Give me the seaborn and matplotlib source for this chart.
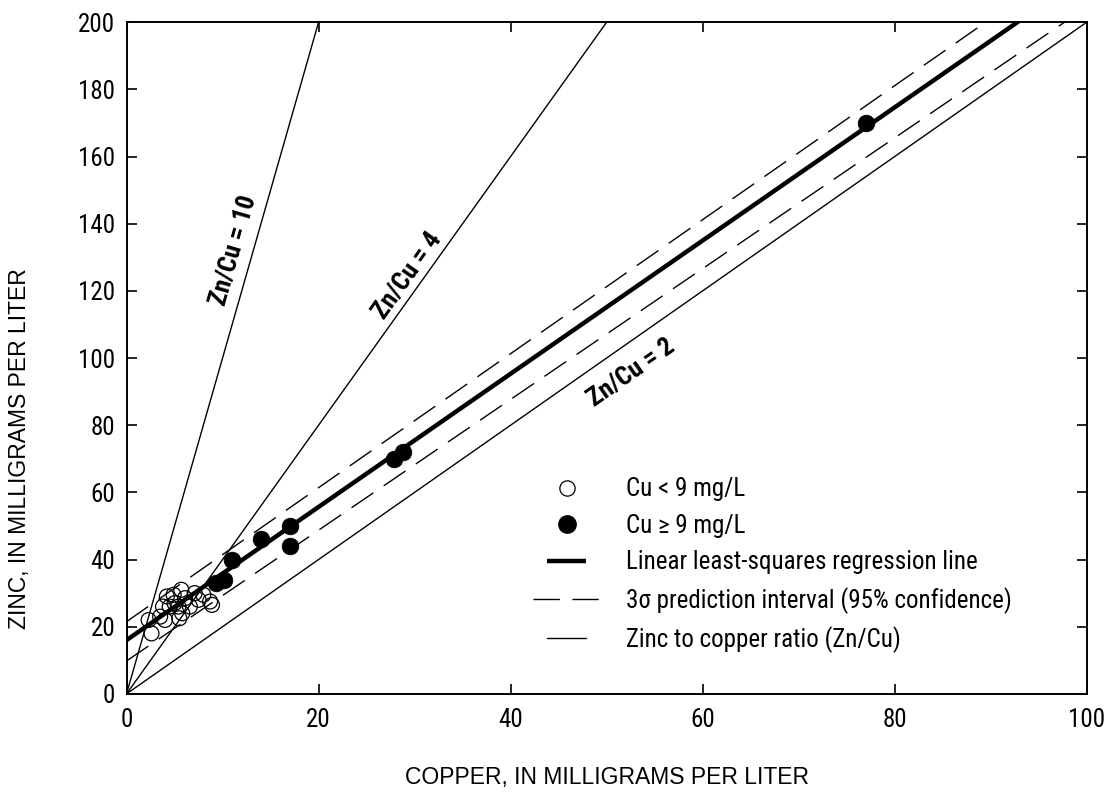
import numpy as np
import pandas as pd
import matplotlib
matplotlib.use("Agg")
import matplotlib.pyplot as plt
from matplotlib.lines import Line2D
from matplotlib.legend_handler import HandlerLine2D
import seaborn as sns

# Samples with Cu < 9 mg/L
cu_low = [2.3, 2.6, 3.5, 3.8, 4.0, 4.2, 4.5, 4.9, 5.0, 5.4, 5.5, 5.7, 5.8, 6.1, 6.6, 7.1, 7.5, 8.0, 8.7, 8.9]
zn_low = [22, 18, 23, 26, 22, 29, 26, 29.5, 27, 26, 22.5, 31, 24, 28.5, 26, 30, 28, 29.5, 27.5, 26.5]

# Samples with Cu >= 9 mg/L
cu_high = [9.3, 10.2, 11.0, 14.0, 17.0, 17.0, 27.9, 28.8, 77.0]
zn_high = [33, 34, 40, 46, 50, 44, 70, 72, 170]

# Least-squares regression line and 3-sigma prediction band
reg_intercept = 16.0
reg_slope = 1.983
band_x = [0, 100]
band_upper = [21.5, 221.0]
band_lower = [9.8, 204.5]

# Zinc-to-copper ratio reference lines and their labels
ratios = [10, 4, 2]
ratio_labels = ["Zn/Cu = 10", "Zn/Cu = 4", "Zn/Cu = 2"]
ratio_label_xy = [(11.2, 132.0), (29.3, 124.5), (52.6, 95.5)]

x_ticks = [0, 20, 40, 60, 80, 100]
y_ticks = [0, 20, 40, 60, 80, 100, 120, 140, 160, 180, 200]

sns.set_theme(style="ticks")
narrow = ["Liberation Sans Narrow", "Roboto Condensed", "Open Sans Condensed",
          "Roboto", "DejaVu Sans"]
plt.rcParams["font.family"] = narrow
plt.rcParams["font.stretch"] = "condensed"
for key in ("text.color", "axes.labelcolor", "xtick.color", "ytick.color",
            "axes.edgecolor"):
    plt.rcParams[key] = "black"

fig = plt.figure(figsize=(11.1, 7.93), dpi=100)
ax = fig.add_axes([0.114, 0.125, 0.865, 0.847])

xs = np.array([0.0, 100.0])

# ratio lines through the origin
for r in ratios:
    ax.plot(xs, r * xs, color="black", lw=1.0, zorder=2)

# prediction band
ax.plot(band_x, band_upper, color="black", lw=1.0, dashes=(19, 9), zorder=2)
ax.plot(band_x, band_lower, color="black", lw=1.0, dashes=(19, 9), zorder=2)

# regression line
ax.plot(xs, reg_intercept + reg_slope * xs, color="black", lw=3.2, zorder=3,
        solid_capstyle="butt")

low = pd.DataFrame({"cu": cu_low, "zn": zn_low})
high = pd.DataFrame({"cu": cu_high, "zn": zn_high})
sns.scatterplot(data=low, x="cu", y="zn", ax=ax, s=115, marker="o",
                facecolor="none", edgecolor="black", linewidth=0.9, zorder=4)
sns.scatterplot(data=high, x="cu", y="zn", ax=ax, s=145, marker="o",
                color="black", edgecolor="black", linewidth=0.5, zorder=5)

for lab, (tx, ty), r in zip(ratio_labels, ratio_label_xy, ratios):
    ax.text(tx, ty, lab, rotation=np.degrees(np.arctan(r)), rotation_mode="anchor",
            transform_rotates_text=True, ha="center", va="center",
            fontsize=18.5, fontweight="bold", family=narrow, fontstretch="condensed",
            zorder=6)

ax.set_xlim(0, 100)
ax.set_ylim(0, 200)
ax.set_xticks(x_ticks)
ax.set_yticks(y_ticks)
ax.tick_params(direction="in", length=7.5, width=1.2, labelsize=18,
               top=True, right=True, colors="black")
ax.tick_params(axis="x", pad=10.5)
ax.tick_params(axis="y", pad=8)
for sp in ax.spines.values():
    sp.set_linewidth(1.4)
    sp.set_color("black")
    sp.set_visible(True)

label_font = dict(family=["Liberation Sans", "DejaVu Sans"], fontsize=16.5,
                  fontstretch="normal", color="black")
ax.set_xlabel("COPPER, IN MILLIGRAMS PER LITER", **label_font)
ax.set_ylabel("ZINC, IN MILLIGRAMS PER LITER", **label_font)
ax.xaxis.set_label_coords(0.5, -0.107)
ax.yaxis.set_label_coords(-0.100, 0.365)


class ShortLineHandler(HandlerLine2D):
    """Line legend handle drawn at a fraction of the full handle length."""

    def __init__(self, frac=1.0, **kw):
        super().__init__(**kw)
        self.frac = frac

    def get_xdata(self, legend, xdescent, ydescent, width, height, fontsize):
        xdata, xmark = super().get_xdata(legend, xdescent, ydescent, width, height, fontsize)
        c = 0.5 * (xdata[0] + xdata[-1])
        half = 0.5 * (xdata[-1] - xdata[0]) * self.frac
        return np.array([c - half, c + half]), xmark


h_open = Line2D([], [], ls="none", marker="o", ms=11, mfc="none", mec="black", mew=0.9)
h_fill = Line2D([], [], ls="none", marker="o", ms=12.5, mfc="black", mec="black")
h_reg = Line2D([], [], color="black", lw=3.2, solid_capstyle="butt")
h_band = Line2D([], [], color="black", lw=1.0, dashes=(19, 9))
h_ratio = Line2D([], [], color="black", lw=1.0)

handles = [h_open, h_fill, h_reg, h_band, h_ratio]
labels = ["Cu < 9 mg/L", "Cu \u2265 9 mg/L", "Linear least-squares regression line",
          "3\u03c3 prediction interval (95% confidence)", "Zinc to copper ratio (Zn/Cu)"]
leg = ax.legend(handles, labels, loc="upper left", bbox_to_anchor=(0.4, 0.356),
                frameon=False, fontsize=18, handlelength=2.7, handletextpad=1.0,
                labelspacing=0.5, numpoints=1,
                handler_map={h_reg: ShortLineHandler(frac=0.58),
                             h_ratio: ShortLineHandler(frac=0.58)})

fig.savefig("out.png", dpi=100)
